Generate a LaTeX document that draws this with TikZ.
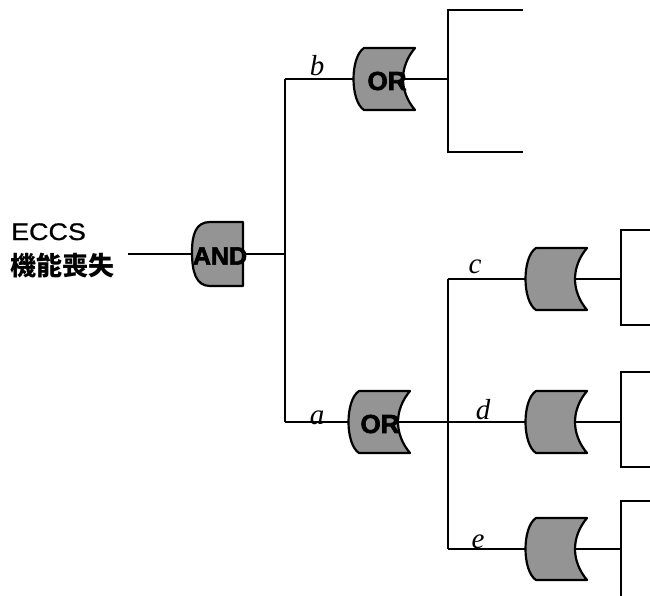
\documentclass[tikz,border=0pt]{standalone}
\usepackage{fontspec}
\setmainfont{Liberation Serif}
\newfontfamily\gatefont{Liberation Sans}
\newfontfamily\heavyfont[FakeBold=2.6]{Liberation Sans Bold}
\newfontfamily\cjk{Noto Sans CJK JP}
\begin{document}
\begin{tikzpicture}[x=1pt,y=-1pt,
  conn/.style={line width=1.2pt},
  boxline/.style={line width=1.5pt},
  gatebody/.style={draw=black, line width=2.2pt, fill=black!42, line join=round},
  slot/.style={rectangle, minimum width=62pt, minimum height=62pt, inner sep=0pt},
  gatetext/.style={font=\heavyfont\fontsize{25}{25}\selectfont, inner sep=0pt},
  lbl/.style={font=\itshape\fontsize{29}{29}\selectfont, inner sep=0pt, anchor=base}]
\useasboundingbox (0,0) rectangle (650,595);

% gate positions
\node[slot] (gand) at (218,254) {};
\node[slot] (gb) at (384,79) {};
\node[slot] (ga) at (379,422) {};
\node[slot] (gc) at (556,279) {};
\node[slot] (gd) at (556,422) {};
\node[slot] (ge) at (556,549) {};

% junctions and line ends
\coordinate (start) at (128,254);
\coordinate (jand) at (285,254);
\coordinate (jb) at (285,79);
\coordinate (ja) at (285,422);
\coordinate (bin) at (448,79);
\coordinate (kc) at (448,279);
\coordinate (ke) at (448,549);
\coordinate (cin) at (621,279);
\coordinate (din) at (621,422);
\coordinate (ein) at (621,549);

% event boxes (cut by the right and bottom edges)
\coordinate (b1) at (523,10);  \coordinate (b2) at (448,10);
\coordinate (b3) at (448,152); \coordinate (b4) at (523,152);
\coordinate (c1) at (651,230); \coordinate (c2) at (621,230);
\coordinate (c3) at (621,325); \coordinate (c4) at (651,325);
\coordinate (d1) at (651,372); \coordinate (d2) at (621,372);
\coordinate (d3) at (621,467); \coordinate (d4) at (651,467);
\coordinate (e1) at (651,501); \coordinate (e2) at (621,501);
\coordinate (e3) at (621,596);

\draw[boxline] (b1) -- (b2) -- (b3) -- (b4);
\draw[boxline] (c1) -- (c2) -- (c3) -- (c4);
\draw[boxline] (d1) -- (d2) -- (d3) -- (d4);
\draw[boxline] (e1) -- (e2) -- (e3);

% connectors
\draw[conn] (start) -- (gand.center) -- (jand);
\draw[conn] (jb) -- (ja);
\draw[conn] (jb) -- (gb.center) -- (bin);
\draw[conn] (ja) -- (ga.center) -- (gd.center) -- (din);
\draw[conn] (kc) -- (ke);
\draw[conn] (kc) -- (gc.center) -- (cin);
\draw[conn] (ke) -- (ge.center) -- (ein);

% AND gate body
\draw[gatebody, shift={(gand.center)}]
  (25,-32) -- (-8,-32) .. controls (-22,-32) and (-26,-20) .. (-26,-2)
  .. controls (-26,18) and (-22,32) .. (-8,32) -- (25,32) -- cycle;

% OR gate bodies
\foreach \g in {gb,ga,gc,gd,ge}{
  \draw[gatebody, shift={(\g.center)}]
    (-20,-31) -- (31,-31) .. controls (15,-12) and (15,12) .. (31,31)
    -- (-20,31) .. controls (-34,22) and (-34,-22) .. cycle;
}

% gate captions
\node[gatetext] (tand) at (220,256) {AND};
\node[gatetext, font=\heavyfont\fontsize{26}{26}\selectfont] (tb) at (387,81) {OR};
\node[gatetext, font=\heavyfont\fontsize{26}{26}\selectfont] (ta) at (380,424) {OR};

% branch labels
\node[lbl] (lb) at (317,75) {b};
\node[lbl] (la) at (317,424) {a};
\node[lbl] (lc) at (475,273) {c};
\node[lbl] (ld) at (483,419) {d};
\node[lbl] (le) at (478,548) {e};

% top event
\node[anchor=base west, inner sep=0pt] (eccs) at (11,240)
  {\gatefont\addfontfeature{FakeBold=0.8}\fontsize{24}{24}\selectfont\scalebox{1.12}[1]{ECCS}};
\node[anchor=west, inner sep=0pt] (loss) at (10,266) {\cjk\bfseries\fontsize{26}{26}\selectfont 機能喪失};
\end{tikzpicture}
\end{document}
